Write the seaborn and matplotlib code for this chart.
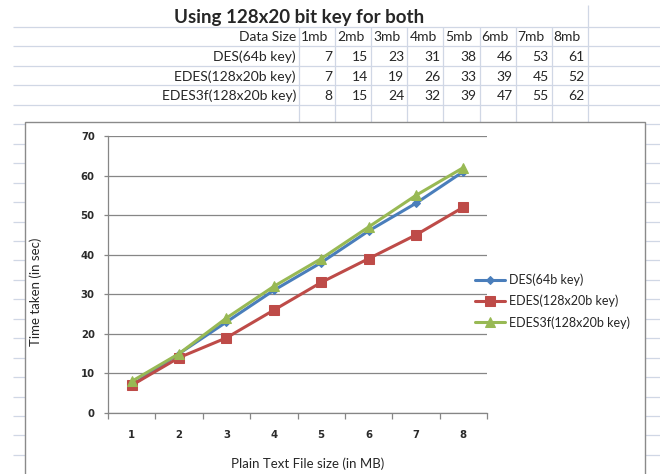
import matplotlib
matplotlib.use("Agg")
import matplotlib.pyplot as plt
from matplotlib.patches import Rectangle
import seaborn as sns

# values as typed in the sheet
file_sizes = [1, 2, 3, 4, 5, 6, 7, 8]
size_labels = ["1mb", "2mb", "3mb", "4mb", "5mb", "6mb", "7mb", "8mb"]
series_names = ["DES(64b key)", "EDES(128x20b key)", "EDES3f(128x20b key)"]
des_times = [7, 15, 23, 31, 38, 46, 53, 61]
edes_times = [7, 14, 19, 26, 33, 39, 45, 52]
edes3f_times = [8, 15, 24, 32, 39, 47, 55, 62]
table_title = "Using 128x20 bit key for both"

series_values = [des_times, edes_times, edes3f_times]
series_colors = ["#4A7EBB", "#BE4B48", "#98B954"]
series_markers = ["D", "s", "^"]
series_msize = [4.5, 7, 7]

sns.set_style("white")
plt.rcParams["font.family"] = ["DejaVu Sans"]

fig = plt.figure(figsize=(6.6, 4.74), dpi=100)

# spreadsheet background, in pixel coordinates
bg = fig.add_axes([0, 0, 1, 1])
bg.set_xlim(0, 660)
bg.set_ylim(474, 0)
bg.axis("off")

grid_col = "#D0D7E5"
for k in range(23):
    bg.hlines(27 + 19.45 * k, 13, 660, color=grid_col, lw=0.9, zorder=1)
col_edges = [299 + 36.1 * i for i in range(9)]
bg.vlines(col_edges, 27, 474, color=grid_col, lw=0.9, zorder=1)
bg.vlines(col_edges[-1], 5, 27, color=grid_col, lw=0.9, zorder=1)

# table text
sheet_font = "Lato"
bg.text(299, 17, table_title, ha="center", va="center", fontsize=13.5,
        fontweight="bold", family=sheet_font, zorder=2)
row_y = [37, 57, 76.5, 96]
bg.text(296, row_y[0], "Data Size", ha="right", va="center", fontsize=10,
        family=sheet_font, zorder=2)
for i, lab in enumerate(size_labels):
    bg.text(col_edges[i] + 2, row_y[0], lab, ha="left", va="center",
            fontsize=10, family=sheet_font, zorder=2)
for r, (name, vals) in enumerate(zip(series_names, series_values)):
    y = row_y[r + 1]
    bg.text(296, y, name, ha="right", va="center", fontsize=10,
            family=sheet_font, zorder=2)
    for i, v in enumerate(vals):
        bg.text(col_edges[i + 1] - 3, y, str(v), ha="right", va="center",
                fontsize=10, family=sheet_font, zorder=2)

# chart box
bg.add_patch(Rectangle((25, 122), 620, 370, facecolor="white",
                       edgecolor="#8A8A8A", lw=1.0, zorder=3))

# chart plot area
ax = fig.add_axes([108 / 660, 61 / 474, 379 / 660, 277 / 474])
ax.set_zorder(5)
ax.patch.set_alpha(0)

for name, vals, c, m, ms in zip(series_names, series_values, series_colors,
                                series_markers, series_msize):
    sns.lineplot(x=file_sizes, y=vals, ax=ax, color=c, marker=m,
                 markersize=ms, markeredgecolor=c, linewidth=2.2, label=name)

ax.set_xlim(0.5, 8.5)
ax.set_ylim(0, 70)
ax.set_yticks(range(0, 71, 10))
ax.set_xticks(file_sizes)
ax.set_xticks([x + 0.5 for x in range(0, 9)], minor=True)
ax.yaxis.grid(True, color="#868686", lw=0.9)
ax.set_axisbelow(True)

for s in ["top", "right"]:
    ax.spines[s].set_visible(False)
for s in ["left", "bottom"]:
    ax.spines[s].set_color("#868686")
    ax.spines[s].set_linewidth(0.9)

ax.tick_params(axis="y", which="major", length=3, width=0.9, color="#868686",
               pad=6.5, labelsize=7.3, left=True)
ax.tick_params(axis="x", which="major", length=0, pad=12, labelsize=7.3)
ax.tick_params(axis="x", which="minor", length=4, width=0.9,
               color="#868686", bottom=True)
for lab in ax.get_xticklabels() + ax.get_yticklabels():
    lab.set_fontweight("bold")
    lab.set_color("#2a2a2a")

ax.set_xlabel("Plain Text File size (in MB)", fontsize=9.5, family=sheet_font)
ax.set_ylabel("Time taken (in sec)", fontsize=9.5, family=sheet_font)
ax.xaxis.set_label_coords((308 - 108) / 379, -(457 - 413) / 277)
ax.yaxis.set_label_coords((42 - 108) / 379, (413 - 292) / 277)

ax.legend(loc="center left", bbox_to_anchor=(475 / 660, 1 - 301 / 474),
          bbox_transform=fig.transFigure, frameon=False,
          prop={"family": sheet_font, "size": 9},
          handlelength=2.4, handletextpad=0.3, labelspacing=0.7,
          borderpad=0, borderaxespad=0)

fig.savefig("out.png", dpi=100)
